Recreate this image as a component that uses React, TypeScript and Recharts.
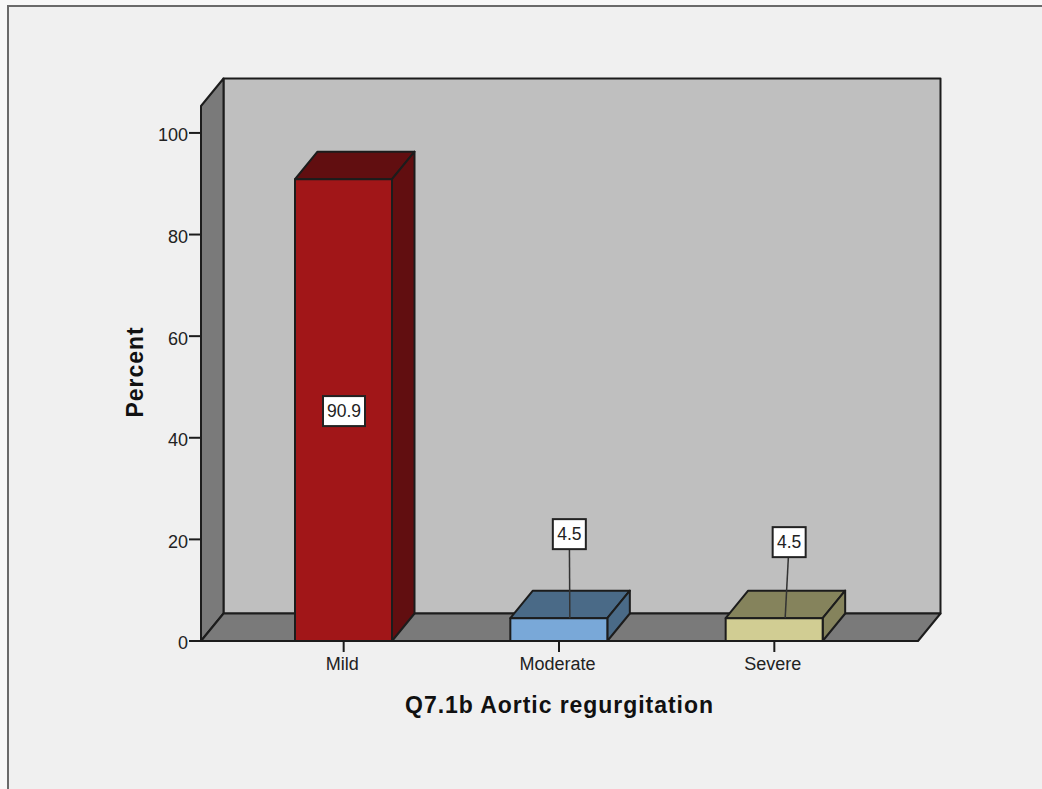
import { BarChart, Bar, XAxis, YAxis, usePlotArea } from "recharts"

const categories = ["Mild", "Moderate", "Severe"]
const percents = [90.9, 4.5, 4.5]
const yTicks = [0, 20, 40, 60, 80, 100]

const frontColors = ["#a11618", "#79a8d8", "#d1cd93"]
const shadeColors = ["#610e10", "#4a6a87", "#85835c"]

// where each value label sits, relative to the top of its bar
const callouts = [null, { dx: 10.5, dy: -84 }, { dx: 15, dy: -76 }]

const data = categories.map((name, i) => ({ name, percent: percents[i] }))

const DEPTH_X = 22.5
const DEPTH_Y = 27.5
const LINE = "#1c1c1c"
const FONT = "'Liberation Sans', Arial, sans-serif"

const pts = (list: number[][]) => list.map((p) => p.join(",")).join(" ")

const Walls = () => {
  const plot = usePlotArea()
  if (!plot) return null
  const { x, y, width, height } = plot
  const bottom = y + height
  const right = x + width

  return (
    <g stroke={LINE} strokeWidth={2} strokeLinejoin="round">
      <rect x={x + DEPTH_X} y={y - DEPTH_Y} width={width} height={height} fill="#bfbfbf" />
      <polygon
        fill="#7a7a7a"
        points={pts([[x, bottom], [x, y], [x + DEPTH_X, y - DEPTH_Y], [x + DEPTH_X, bottom - DEPTH_Y]])}
      />
      <polygon
        fill="#7a7a7a"
        points={pts([[x, bottom], [x + DEPTH_X, bottom - DEPTH_Y], [right + DEPTH_X, bottom - DEPTH_Y], [right, bottom]])}
      />
    </g>
  )
}

const ValueBox = ({ cx, cy, text }: any) => {
  const boxWidth = String(text).length > 3 ? 42 : 33
  return (
    <g>
      <rect x={cx - boxWidth / 2} y={cy - 15} width={boxWidth} height={30} fill="#fff" stroke="#222" strokeWidth={2} />
      <text x={cx} y={cy + 6} textAnchor="middle" fontSize={17.5} fontFamily={FONT} fill="#222">
        {text}
      </text>
    </g>
  )
}

const Bar3D = ({ x, y, width, height, index, payload }: any) => {
  const bottom = y + height
  const right = x + width
  const mid = x + width / 2
  const callout = callouts[index]

  return (
    <g>
      <g stroke={LINE} strokeWidth={2} strokeLinejoin="round">
        <polygon
          fill={shadeColors[index]}
          points={pts([[x, y], [x + DEPTH_X, y - DEPTH_Y], [right + DEPTH_X, y - DEPTH_Y], [right, y]])}
        />
        <polygon
          fill={shadeColors[index]}
          points={pts([[right, y], [right + DEPTH_X, y - DEPTH_Y], [right + DEPTH_X, bottom - DEPTH_Y], [right, bottom]])}
        />
        <rect x={x} y={y} width={width} height={height} fill={frontColors[index]} />
      </g>
      {callout ? (
        <g>
          <line x1={mid + 11} y1={y} x2={mid + callout.dx} y2={y + callout.dy} stroke="#333" strokeWidth={1.5} />
          <ValueBox cx={mid + callout.dx} cy={y + callout.dy} text={payload.percent} />
        </g>
      ) : (
        <ValueBox cx={mid + 0.5} cy={y + height / 2 + 1} text={payload.percent} />
      )}
    </g>
  )
}

export default function App() {
  return (
    <div style={{ position: "absolute", left: 0, top: 0, width: 1042, height: 789, background: "#f8f8f8", overflow: "hidden" }}>
      <div
        style={{
          position: "absolute",
          left: 7,
          top: 5,
          right: 0,
          bottom: 0,
          background: "#f0f0f0",
          borderTop: "2px solid #6a6a6a",
          borderLeft: "2px solid #6a6a6a",
        }}
      />
      <div style={{ position: "absolute", left: 0, top: 0 }}>
        <BarChart
          width={1042}
          height={789}
          data={data}
          margin={{ top: 106, right: 124, bottom: 0, left: 0 }}
          barCategoryGap={0}
        >
          <Walls />
          <XAxis
            dataKey="name"
            height={148}
            padding={{ left: 35, right: 36 }}
            tickSize={11}
            tickMargin={5}
            tick={{ fill: "#222", fontSize: 18, fontFamily: FONT, dx: -1.5 }}
            axisLine={{ stroke: LINE, strokeWidth: 2 }}
            tickLine={{ stroke: LINE, strokeWidth: 2 }}
            label={{
              value: "Q7.1b Aortic regurgitation",
              position: "insideBottom",
              offset: 76,
              fill: "#111",
              fontSize: 23,
              fontWeight: "bold",
              fontFamily: FONT,
              letterSpacing: 0.95,
            }}
          />
          <YAxis
            width={201}
            domain={[0, 105.3]}
            ticks={yTicks}
            interval={0}
            tickSize={12}
            tickMargin={1}
            tick={{ fill: "#222", fontSize: 18, fontFamily: FONT, dy: 2 }}
            axisLine={{ stroke: LINE, strokeWidth: 2 }}
            tickLine={{ stroke: LINE, strokeWidth: 2 }}
            label={{
              value: "Percent",
              angle: -90,
              position: "insideLeft",
              offset: 135,
              dy: 44,
              fill: "#111",
              fontSize: 23,
              fontWeight: "bold",
              fontFamily: FONT,
              letterSpacing: 0.95,
            }}
          />
          <Bar dataKey="percent" barSize={97} shape={Bar3D} isAnimationActive={false} />
        </BarChart>
      </div>
    </div>
  )
}
